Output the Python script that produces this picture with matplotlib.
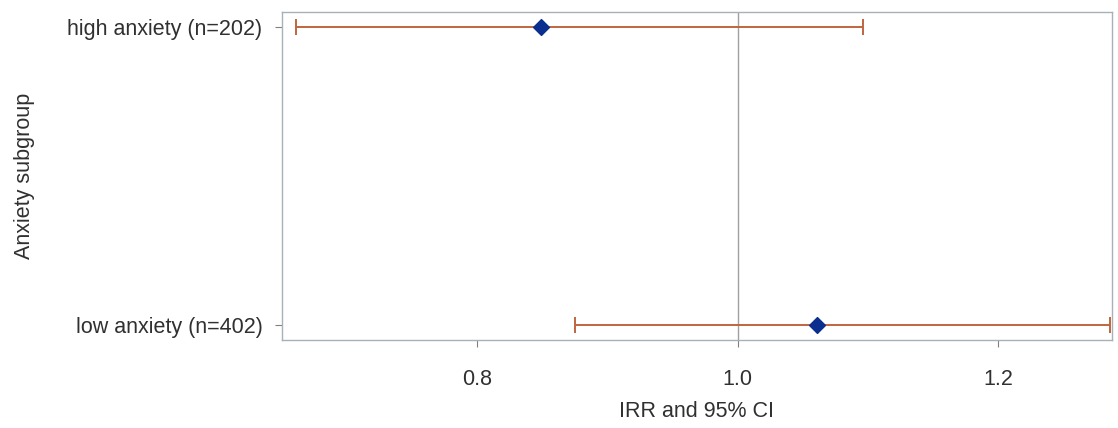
import matplotlib
matplotlib.use("Agg")
import matplotlib.pyplot as plt

# Incidence rate ratios by anxiety subgroup
groups = ["high anxiety (n=202)", "low anxiety (n=402)"]
irr = [0.849, 1.061]
ci_low = [0.661, 0.875]
ci_high = [1.096, 1.286]

plt.rcParams['font.family'] = ['Liberation Sans', 'DejaVu Sans']

fig = plt.figure(figsize=(11.18, 4.28), dpi=100, facecolor='w')
ax = fig.add_axes([0.2522, 0.2056, 0.7424, 0.7664])

ypos = list(range(len(groups)))
err = [[m - lo for m, lo in zip(irr, ci_low)], [hi - m for m, hi in zip(irr, ci_high)]]

ax.axvline(1.0, color='#a0a0a0', lw=1, zorder=1)
ax.errorbar(irr, ypos, xerr=err, fmt='none', ecolor='#c0653f', elinewidth=1.4,
            capsize=5.8, capthick=1.4, zorder=2)
ax.scatter(irr, ypos, marker='D', s=65, color='#0a2f8f', zorder=3)

ax.set_xlim(0.65, 1.2875)
ax.set_ylim(1.05, -0.05)
ax.set_xticks([0.8, 1.0, 1.2])
ax.set_xticklabels(['0.8', '1.0', '1.2'])
ax.set_yticks(ypos)
ax.set_yticklabels(groups)

for s in ax.spines.values():
    s.set_color('#a8b0b8')
    s.set_linewidth(1)
ax.tick_params(axis='both', colors='#808080', labelcolor='#303030', labelsize=15.5, length=5)
ax.tick_params(axis='x', pad=16)
ax.tick_params(axis='y', pad=9)

ax.set_xlabel('IRR and 95% CI', fontsize=15.5, color='#303030', labelpad=8)
ax.set_ylabel('Anxiety subgroup', fontsize=15.5, color='#303030', labelpad=23)

plt.savefig('out.png', dpi=100)
